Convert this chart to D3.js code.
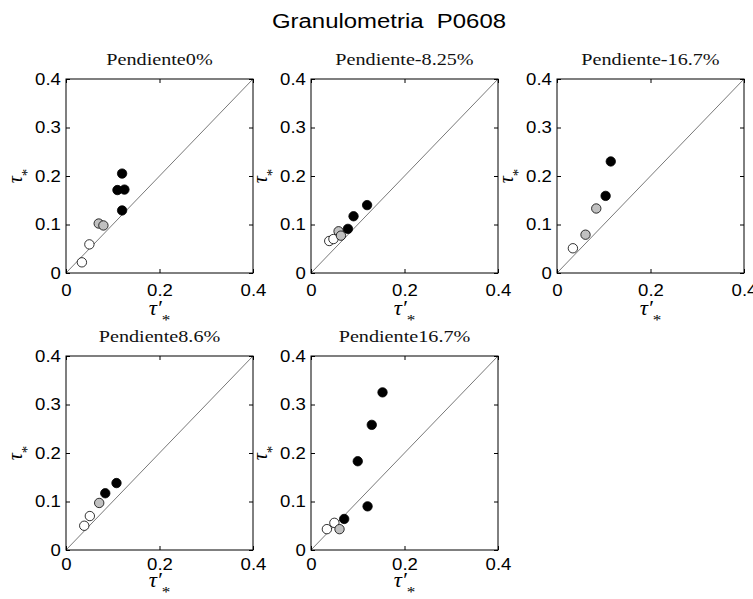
<!DOCTYPE html>
<html>
<head>
<meta charset="utf-8">
<script src="https://cdn.jsdelivr.net/npm/d3@7"></script>
<style>
  body { margin: 0; background: #fff; }
  svg { display: block; }
</style>
</head>
<body>
<script>
// Panel titles (slope of the flume)
var panelTitles = ["Pendiente0%", "Pendiente-8.25%", "Pendiente-16.7%", "Pendiente8.6%", "Pendiente16.7%"];

// tick values
var xTicks = [0, 0.2, 0.4];
var yTicks = [0, 0.1, 0.2, 0.3, 0.4];

// each point: [tau'_*, tau_*, size class]
var pend0 = [
  [0.034, 0.022, "fine"], [0.050, 0.059, "fine"],
  [0.070, 0.102, "mid"], [0.080, 0.098, "mid"],
  [0.120, 0.205, "coarse"], [0.110, 0.171, "coarse"], [0.125, 0.172, "coarse"], [0.120, 0.129, "coarse"]
];
var pendM825 = [
  [0.039, 0.066, "fine"], [0.048, 0.070, "fine"],
  [0.059, 0.086, "mid"], [0.064, 0.077, "mid"],
  [0.079, 0.091, "coarse"], [0.091, 0.117, "coarse"], [0.120, 0.140, "coarse"]
];
var pendM167 = [
  [0.034, 0.051, "fine"],
  [0.061, 0.079, "mid"], [0.084, 0.133, "mid"],
  [0.104, 0.159, "coarse"], [0.115, 0.230, "coarse"]
];
var pend86 = [
  [0.039, 0.050, "fine"], [0.051, 0.070, "fine"],
  [0.071, 0.097, "mid"],
  [0.084, 0.117, "coarse"], [0.108, 0.138, "coarse"]
];
var pend167 = [
  [0.034, 0.043, "fine"], [0.050, 0.056, "fine"],
  [0.061, 0.043, "mid"],
  [0.071, 0.064, "coarse"], [0.121, 0.090, "coarse"], [0.100, 0.183, "coarse"],
  [0.130, 0.258, "coarse"], [0.153, 0.325, "coarse"]
];
var panelData = [pend0, pendM825, pendM167, pend86, pend167];

var classFill = { fine: "#ffffff", mid: "#c0c0c0", coarse: "#000000" };
var classOrder = ["fine", "mid", "coarse"];

// layout (the original figure is stretched a bit horizontally, text too)
var width = 753, height = 599;
var stretch = 1.14;
var colLeft = [66, 311, 557];
var rowTop = [79, 356];
var pw = 187, ph = 194;
// bottom row is squeezed against the figure edge
var tickPad = [11, 8.5];
var xlabOff = [42, 37];

var svg = d3.select("body").append("svg")
  .attr("width", width)
  .attr("height", height);

function stretchedText(g, x, y, txt) {
  return g.append("text")
    .attr("transform", "translate(" + x + "," + y + ") scale(" + stretch + ",1)")
    .text(txt);
}

function fmt(d) { return d === 0 ? "0" : d3.format(".1f")(d); }

// main title
stretchedText(svg, 389, 28, "Granulometria  P0608")
  .attr("text-anchor", "middle")
  .attr("font-family", "Liberation Sans, Arial, sans-serif")
  .attr("font-size", 21)
  .style("white-space", "pre");

panelData.forEach(function(pts, i) {
  var row = Math.floor(i / 3);
  var left = colLeft[i % 3];
  var top = rowTop[row];

  var x = d3.scaleLinear().domain([0, 0.4]).range([0, pw]);
  var y = d3.scaleLinear().domain([0, 0.4]).range([ph, 0]);

  var g = svg.append("g").attr("transform", "translate(" + left + "," + top + ")");

  // 1:1 line
  g.append("line")
    .attr("x1", x(0)).attr("y1", y(0))
    .attr("x2", x(0.4)).attr("y2", y(0.4))
    .attr("stroke", "#555")
    .attr("stroke-width", 0.8);

  // axes, ticks inward like matlab
  var axB = g.append("g").attr("transform", "translate(0," + ph + ")")
    .call(d3.axisBottom(x).tickValues(xTicks).tickSizeInner(-4).tickSizeOuter(0)
      .tickPadding(tickPad[row]).tickFormat(fmt));
  var axL = g.append("g")
    .call(d3.axisLeft(y).tickValues(yTicks).tickSizeInner(-4).tickSizeOuter(0)
      .tickPadding(4.5).tickFormat(fmt));
  g.append("g")
    .call(d3.axisTop(x).tickValues(xTicks).tickSizeInner(-4).tickSizeOuter(0).tickFormat(""));
  g.append("g").attr("transform", "translate(" + pw + ",0)")
    .call(d3.axisRight(y).tickValues(yTicks).tickSizeInner(-4).tickSizeOuter(0).tickFormat(""));

  g.selectAll(".domain").remove();
  g.selectAll(".tick line").attr("stroke", "#000");
  [axB, axL].forEach(function(a) {
    a.selectAll("text")
      .attr("fill", "#000")
      .attr("font-family", "Liberation Sans, Arial, sans-serif")
      .attr("font-size", 16.3)
      .attr("transform", "scale(" + stretch + ",1)");
  });

  // box
  g.append("rect")
    .attr("x", 0).attr("y", 0)
    .attr("width", pw).attr("height", ph)
    .attr("fill", "none")
    .attr("stroke", "#000")
    .attr("stroke-width", 1);

  // points
  var sorted = pts.slice().sort(function(a, b) {
    return classOrder.indexOf(a[2]) - classOrder.indexOf(b[2]);
  });
  g.selectAll("circle")
      .data(sorted).enter()
    .append("circle")
      .attr("cx", function(d) { return x(d[0]); })
      .attr("cy", function(d) { return y(d[1]); })
      .attr("r", 4.7)
      .attr("fill", function(d) { return classFill[d[2]]; })
      .attr("stroke", "#000")
      .attr("stroke-width", 0.8);

  // panel title
  stretchedText(g, pw / 2, -14, panelTitles[i])
    .attr("text-anchor", "middle")
    .attr("fill", "#111")
    .attr("font-family", "'Liberation Serif', 'Times New Roman', serif")
    .attr("font-size", 17.7);

  // x label  tau'_*
  var xl = stretchedText(g, pw / 2, ph + xlabOff[row], "")
    .attr("text-anchor", "middle")
    .attr("font-family", "'Liberation Serif', 'Times New Roman', serif")
    .attr("font-style", "italic")
    .attr("font-size", 20);
  xl.append("tspan").text("\u03C4\u2032");
  xl.append("tspan").attr("dy", 10).attr("font-size", 15)
    .attr("font-style", "normal").text("*");

  // y label  tau_*
  var yl = g.append("text")
    .attr("transform", "translate(-44.5," + (ph / 2) + ") rotate(-90)")
    .attr("text-anchor", "middle")
    .attr("font-family", "'Liberation Serif', 'Times New Roman', serif")
    .attr("font-style", "italic")
    .attr("font-size", 20);
  yl.append("tspan").text("\u03C4");
  yl.append("tspan").attr("dy", 10).attr("font-size", 15)
    .attr("font-style", "normal").text("*");
});
</script>
</body>
</html>
